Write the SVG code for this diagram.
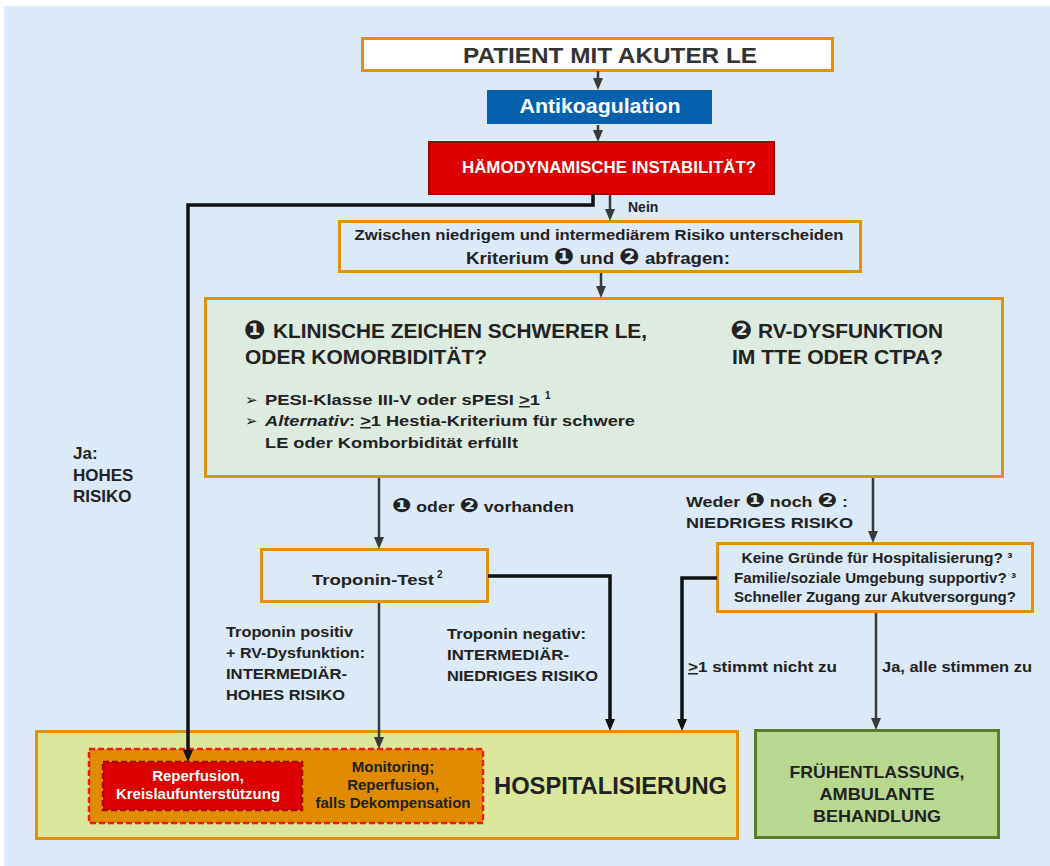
<svg xmlns="http://www.w3.org/2000/svg" width="1050" height="866" viewBox="0 0 1050 866">
<style>
text{font-family:"Liberation Sans","DejaVu Sans",Arial,sans-serif;font-weight:bold;fill:#222}
.w{fill:#fff}
.m{text-anchor:middle}
.ob{fill:none;stroke:#e3900f;stroke-width:3}
.g{fill:none;stroke:#3a3a3a;stroke-width:2.5}
.k{fill:none;stroke:#111;stroke-width:3.5}
.s15{font-size:15px}
.s14{font-size:14px}
.d{font-family:"DejaVu Sans",sans-serif;font-size:1.3em}
</style>
<defs>
<marker id="ag" viewBox="0 0 12 10" refX="6" refY="5" markerWidth="12" markerHeight="10" markerUnits="userSpaceOnUse" orient="auto"><path d="M0,0 L12,5 L0,10 z" fill="#3a3a3a"/></marker>
<marker id="ak" viewBox="0 0 12 10" refX="6" refY="5" markerWidth="12" markerHeight="10" markerUnits="userSpaceOnUse" orient="auto"><path d="M0,0 L12,5 L0,10 z" fill="#111"/></marker>
</defs>
<rect x="4" y="6" width="1046" height="860" fill="#dce9f7"/>

<g id="patient">
<rect class="ob" x="362.5" y="38.5" width="470" height="32" style="fill:#fff"/>
<text class="m" x="610" y="63" font-size="22" textLength="294" lengthAdjust="spacingAndGlyphs" style="fill:#333">PATIENT MIT AKUTER LE</text>
</g>

<g id="antikoagulation">
<rect x="487" y="90" width="225" height="34" fill="#0560ae"/>
<text class="m w" x="600" y="113" font-size="20" textLength="161" lengthAdjust="spacingAndGlyphs">Antikoagulation</text>
</g>

<g id="instabilitaet">
<rect x="429" y="142" width="345" height="52" fill="#dd0000" stroke="#a00000" stroke-width="2"/>
<text class="m w" x="609" y="173" font-size="16" textLength="294" lengthAdjust="spacingAndGlyphs">HÄMODYNAMISCHE INSTABILITÄT?</text>
</g>

<g id="nein-label">
<text x="628" y="212" font-size="14">Nein</text>
</g>

<g id="zwischen">
<rect class="ob" x="339.5" y="221.5" width="521" height="50"/>
<text class="m s14" x="599" y="240" textLength="489" lengthAdjust="spacingAndGlyphs">Zwischen niedrigem und intermediärem Risiko unterscheiden</text>
<text class="m" x="598" y="264" font-size="17" textLength="264" lengthAdjust="spacingAndGlyphs">Kriterium <tspan class="d">❶</tspan> und <tspan class="d">❷</tspan> abfragen:</text>
</g>

<g id="kriterien">
<rect class="ob" x="205.5" y="298.5" width="797" height="178" style="fill:#deebe1"/>
<text x="244" y="339" font-size="20"><tspan class="d">❶</tspan></text>
<text x="273" y="338" font-size="20" textLength="374" lengthAdjust="spacingAndGlyphs">KLINISCHE ZEICHEN SCHWERER LE,</text>
<text x="245" y="364" font-size="20" textLength="242" lengthAdjust="spacingAndGlyphs">ODER KOMORBIDITÄT?</text>
<text x="730" y="339" font-size="20"><tspan class="d">❷</tspan></text>
<text x="758" y="338" font-size="20" textLength="185" lengthAdjust="spacingAndGlyphs">RV-DYSFUNKTION</text>
<text x="732" y="364" font-size="20" textLength="211" lengthAdjust="spacingAndGlyphs">IM TTE ODER CTPA?</text>
<text class="s15" x="245" y="405">➢</text>
<text class="s15" x="265" y="405" textLength="275" lengthAdjust="spacingAndGlyphs">PESI-Klasse III-V oder sPESI <tspan text-decoration="underline">&gt;</tspan>1</text>
<text x="545" y="399" font-size="10">1</text>
<text class="s15" x="245" y="426">➢</text>
<text class="s15" x="265" y="426" textLength="370" lengthAdjust="spacingAndGlyphs"><tspan font-style="italic">Alternativ</tspan>: <tspan text-decoration="underline">&gt;</tspan>1 Hestia-Kriterium für schwere</text>
<text class="s15" x="265" y="448" textLength="253" lengthAdjust="spacingAndGlyphs">LE oder Komborbidität erfüllt</text>
</g>

<g id="label-vorhanden">
<text class="s15" x="392" y="512" textLength="182" lengthAdjust="spacingAndGlyphs"><tspan class="d">❶</tspan> oder <tspan class="d">❷</tspan> vorhanden</text>
</g>

<g id="label-weder">
<text class="s15" x="686" y="507" textLength="162" lengthAdjust="spacingAndGlyphs">Weder <tspan class="d">❶</tspan> noch <tspan class="d">❷</tspan> :</text>
<text class="s15" x="686" y="528" textLength="167" lengthAdjust="spacingAndGlyphs">NIEDRIGES RISIKO</text>
</g>

<g id="troponin">
<rect class="ob" x="261.5" y="549.5" width="226" height="52"/>
<text class="s15" x="312" y="585" textLength="122" lengthAdjust="spacingAndGlyphs">Troponin-Test</text>
<text x="437" y="578" font-size="10">2</text>
</g>

<g id="ambulant-fragen">
<rect class="ob" x="717.5" y="543.5" width="315" height="68"/>
<text class="m s14" x="877" y="563" textLength="271" lengthAdjust="spacingAndGlyphs">Keine Gründe für Hospitalisierung? ³</text>
<text class="m s14" x="875" y="583" textLength="282" lengthAdjust="spacingAndGlyphs">Familie/soziale Umgebung supportiv? ³</text>
<text class="m s14" x="875" y="602" textLength="282" lengthAdjust="spacingAndGlyphs">Schneller Zugang zur Akutversorgung?</text>
</g>

<g id="label-positiv">
<text class="s15" x="226" y="637" textLength="127" lengthAdjust="spacingAndGlyphs">Troponin positiv</text>
<text class="s15" x="226" y="658" textLength="139" lengthAdjust="spacingAndGlyphs">+ RV-Dysfunktion:</text>
<text class="s15" x="226" y="679" textLength="121" lengthAdjust="spacingAndGlyphs">INTERMEDIÄR-</text>
<text class="s15" x="226" y="700" textLength="119" lengthAdjust="spacingAndGlyphs">HOHES RISIKO</text>
</g>

<g id="label-negativ">
<text class="s15" x="447" y="639" textLength="139" lengthAdjust="spacingAndGlyphs">Troponin negativ:</text>
<text class="s15" x="447" y="660" textLength="122" lengthAdjust="spacingAndGlyphs">INTERMEDIÄR-</text>
<text class="s15" x="447" y="681" textLength="151" lengthAdjust="spacingAndGlyphs">NIEDRIGES RISIKO</text>
</g>

<g id="label-nicht">
<text class="s15" x="688" y="672" textLength="149" lengthAdjust="spacingAndGlyphs"><tspan text-decoration="underline">&gt;</tspan>1 stimmt nicht zu</text>
</g>
<g id="label-ja-alle">
<text class="s15" x="882" y="672" textLength="150" lengthAdjust="spacingAndGlyphs">Ja, alle stimmen zu</text>
</g>

<g id="label-hoch">
<text x="73" y="459" font-size="17">Ja:</text>
<text x="73" y="481" font-size="17">HOHES</text>
<text x="73" y="502" font-size="17">RISIKO</text>
</g>

<g id="hospitalisierung">
<rect class="ob" x="36.5" y="731.5" width="701" height="107" style="fill:#dbe89b"/>
<rect x="89" y="749" width="394" height="74" fill="#e08b00" stroke="#e81c1c" stroke-width="2.5" stroke-dasharray="6,3"/>
<text class="m s15" x="393" y="772">Monitoring;</text>
<text class="m s15" x="393" y="790">Reperfusion,</text>
<text class="m s15" x="393" y="808">falls Dekompensation</text>
<text x="494" y="794" font-size="24" textLength="233" lengthAdjust="spacingAndGlyphs">HOSPITALISIERUNG</text>
</g>

<g id="reperfusion">
<rect x="103" y="762" width="199" height="48" fill="#dd0000" stroke="#b00000" stroke-width="2.5" stroke-dasharray="6,3"/>
<text class="m w s15" x="198" y="781">Reperfusion,</text>
<text class="m w s15" x="198" y="799">Kreislaufunterstützung</text>
</g>

<g id="fruehentlassung">
<rect x="755.5" y="730.5" width="243" height="107" fill="#b9d88f" stroke="#5a7d25" stroke-width="3"/>
<text class="m" x="877" y="778" font-size="17" textLength="175" lengthAdjust="spacingAndGlyphs">FRÜHENTLASSUNG,</text>
<text class="m" x="877" y="800" font-size="17" textLength="115" lengthAdjust="spacingAndGlyphs">AMBULANTE</text>
<text class="m" x="877" y="822" font-size="17" textLength="128" lengthAdjust="spacingAndGlyphs">BEHANDLUNG</text>
</g>

<g id="connectors">
<path class="g" d="M598,71 V84" marker-end="url(#ag)"/>
<path class="g" d="M598,125 V136" marker-end="url(#ag)"/>
<path class="g" d="M610,195 V215" marker-end="url(#ag)"/>
<path class="g" d="M601,273 V292" marker-end="url(#ag)"/>
<path class="g" d="M379,478 V543" marker-end="url(#ag)"/>
<path class="g" d="M873,478 V537" marker-end="url(#ag)"/>
<path class="g" d="M379,603 V743" marker-end="url(#ag)"/>
<path class="g" d="M876,613 V724" marker-end="url(#ag)"/>
<path class="k" d="M593,194 V205 H188 V756" marker-end="url(#ak)"/>
<path class="k" d="M488,576 H610 V725" marker-end="url(#ak)"/>
<path class="k" d="M717,578 H682 V725" marker-end="url(#ak)"/>
</g>
</svg>
